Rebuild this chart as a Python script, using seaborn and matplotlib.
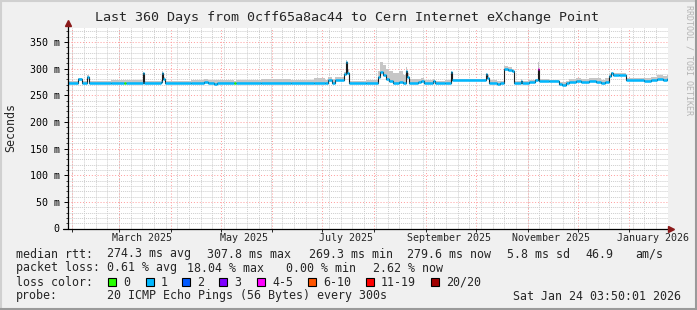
import numpy as np
import pandas as pd
import matplotlib
matplotlib.use("Agg")
import matplotlib.pyplot as plt
import matplotlib.dates as mdates
from matplotlib.ticker import MultipleLocator, FuncFormatter, NullFormatter
from matplotlib.patches import Rectangle
from matplotlib.lines import Line2D
import seaborn as sns

# ---------------- data ----------------
days = [0.0, 6.0, 8.4, 11.4, 12.6, 25.8, 33.6, 34.8, 45.0, 45.6,
        55.8, 56.4, 57.3, 58.2, 73.8, 81.6, 84.0, 87.6, 89.4, 99.6,
        100.8, 115.8, 133.8, 147.6, 154.2, 156.0, 158.4, 160.2, 165.6, 166.8,
        167.4, 168.6, 178.8, 186.0, 187.2, 189.0, 190.8, 192.6, 195.0, 198.6,
        201.0, 202.8, 203.4, 204.6, 210.0, 211.8, 213.6, 219.0, 220.2, 226.2,
        229.8, 230.4, 250.8, 251.4, 252.6, 257.4, 259.2, 261.6, 264.0, 266.4,
        267.6, 271.8, 272.4, 276.6, 280.2, 282.0, 282.6, 288.6, 294.6, 296.4,
        298.8, 300.6, 304.8, 307.8, 312.6, 316.8, 319.8, 322.2, 324.6, 325.8,
        327.0, 330.6, 334.8, 345.6, 349.8, 353.4, 357.0, 359.4, 360.0]
median_ms = [273, 280, 273, 285, 273, 273, 273, 273, 291, 273,
             274, 292, 280, 273, 273, 275, 273, 271, 273, 273,
             273, 273, 273, 273, 273, 278, 272, 278, 289, 312,
             292, 272, 273, 285, 294, 288, 281, 276, 273, 275,
             273, 296, 284, 273, 274, 277, 272, 276, 272, 273,
             294, 279, 289, 283, 273, 271, 273, 300, 298, 296,
             272, 277, 272, 275, 278, 300, 277, 276, 271, 270,
             272, 275, 277, 274, 276, 275, 272, 275, 286, 291,
             288, 287, 279, 277, 279, 281, 279, 281, 281]
smoke_hi_ms = [277, 283, 277, 288, 277, 279, 278, 278, 294, 277,
               279, 296, 284, 277, 279, 281, 279, 278, 278, 277,
               278, 280, 278, 282, 279, 284, 280, 284, 293, 316,
               300, 277, 278, 295, 313, 306, 300, 296, 292, 296,
               288, 303, 292, 281, 280, 282, 278, 281, 277, 278,
               295, 281, 291, 288, 278, 276, 277, 304, 302, 300,
               277, 280, 277, 279, 281, 313, 280, 279, 275, 274,
               276, 280, 282, 281, 283, 282, 278, 283, 290, 294,
               292, 291, 282, 283, 284, 287, 286, 287, 287]
loss = ["1", "1", "1", "1", "1", "1", "0", "1", "1", "1",
        "1", "1", "1", "1", "1", "1", "1", "1", "1", "0",
        "1", "1", "1", "1", "1", "1", "1", "1", "1", "1",
        "1", "1", "1", "1", "1", "1", "1", "1", "1", "1",
        "1", "1", "1", "1", "1", "1", "1", "1", "1", "1",
        "1", "1", "1", "1", "1", "1", "1", "1", "1", "1",
        "1", "1", "1", "1", "1", "4-5", "1", "1", "1", "1",
        "1", "1", "1", "1", "1", "1", "1", "1", "1", "1",
        "1", "1", "1", "1", "1", "1", "1", "1", "1"]

loss_labels = ["0", "1", "2", "3", "4-5", "6-10", "11-19", "20/20"]
loss_colors = ["#26ff00", "#00b8ff", "#0059ff", "#7e00ff", "#ff00ff",
               "#ff5500", "#ff0000", "#a10000"]

title = "Last 360 Days from 0cff65a8ac44 to Cern Internet eXchange Point"
row1 = ["median rtt:", "274.3 ms avg", "307.8 ms max", "269.3 ms min",
        "279.6 ms now", "5.8 ms sd", "46.9", "am/s"]
row2 = ["packet loss:", "0.61 % avg", "18.04 % max", "0.00 % min", "2.62 % now"]
row4 = ["probe:", "20 ICMP Echo Pings (56 Bytes) every 300s",
        "Sat Jan 24 03:50:01 2026"]

start = pd.Timestamp("2025-01-29 03:50:01")
end = start + pd.Timedelta(days=360)

# ---------------- style ----------------
sns.set_style("white")
plt.rcParams["font.family"] = ["DejaVu Sans Mono", "DejaVu Sans"]

W, H = 697, 310
BG = "#f0f0f0"
fig = plt.figure(figsize=(W / 100, H / 100), dpi=100, facecolor=BG)
ax = fig.add_axes([67.5 / W, (H - 228.5) / H, 600.5 / W, 200.5 / H])
ax.set_facecolor("white")

df = pd.DataFrame({
    "date": start + pd.to_timedelta(days, unit="D"),
    "median": median_ms,
    "hi": smoke_hi_ms,
    "loss": loss,
})
cmap = dict(zip(loss_labels, loss_colors))

# smoke
ax.fill_between(mdates.date2num(df["date"]), df["median"], df["hi"],
                step="post", color="#c6c6c6", lw=0, zorder=2)
# median (dark transitions)
sns.lineplot(data=df, x="date", y="median", drawstyle="steps-post",
             color="#1c1c1c", lw=0.8, ax=ax, zorder=3, legend=False)
# median coloured by loss
xn = mdates.date2num(df["date"])
for i in range(len(df) - 1):
    ax.hlines(df["median"].iloc[i], xn[i], xn[i + 1],
              color=cmap[df["loss"].iloc[i]], lw=1.8, zorder=4)

ax.set_xlim(start, end)
ax.set_ylim(0, 376)
ax.set_xlabel("")
ax.set_ylabel("")

# grid
ax.set_axisbelow(True)
ax.yaxis.set_major_locator(MultipleLocator(50))
ax.yaxis.set_minor_locator(MultipleLocator(10))
ax.yaxis.set_major_formatter(FuncFormatter(lambda v, p: "0" if v == 0 else f"{int(v)} m"))
ax.xaxis.set_major_locator(mdates.MonthLocator())
ax.xaxis.set_major_formatter(NullFormatter())
ax.xaxis.set_minor_locator(mdates.MonthLocator(bymonth=(1, 3, 5, 7, 9, 11), bymonthday=15))
ax.xaxis.set_minor_formatter(mdates.DateFormatter("%B %Y"))

for d in mdates.WeekdayLocator(byweekday=mdates.SA).tick_values(start, end):
    ax.axvline(d, color="#cdcdcd", lw=0.7, ls=(0, (1, 1)), zorder=0)
ax.grid(which="minor", axis="y", color="#cdcdcd", lw=0.7, ls=(0, (1, 1)), zorder=0)
ax.grid(which="major", axis="y", color="#ff9a9a", lw=0.7, ls=(0, (1, 2)), zorder=1)
ax.grid(which="major", axis="x", color="#ff9a9a", lw=0.7, ls=(0, (1, 2)), zorder=1)
ax.grid(which="minor", axis="x", visible=False)

ax.tick_params(axis="y", which="major", length=3, width=0.7, pad=2.5,
               labelsize=7.2, direction="out", left=True, colors="black")
ax.tick_params(axis="y", which="minor", length=1.5, width=0.6, left=True, direction="out")
ax.tick_params(axis="x", which="major", length=2.5, width=0.7, bottom=True, direction="out")
ax.tick_params(axis="x", which="minor", length=0, pad=3, labelsize=7.2)

for s in ax.spines.values():
    s.set_visible(False)

# axis lines with arrows
ax.plot([0, 0], [0, 1.01], color="black", lw=0.9, transform=ax.transAxes, clip_on=False, zorder=6)
ax.plot([-0.007, 1.0], [0, 0], color="black", lw=0.9, transform=ax.transAxes, clip_on=False, zorder=6)
ax.plot([0], [1.025], marker="^", ms=4.5, color="#8b1a1a", transform=ax.transAxes, clip_on=False, zorder=7)
ax.plot([1.005], [0], marker=">", ms=4.5, color="#8b1a1a", transform=ax.transAxes, clip_on=False, zorder=7)

# texts
def ft(x, y, s, **kw):
    kw.setdefault("fontsize", 8.35)
    kw.setdefault("va", "center")
    kw.setdefault("ha", "left")
    fig.text(x / W, 1 - y / H, s, **kw)

ft(347, 18, title, ha="center", fontsize=9.6)
ft(11, 127.5, "Seconds", rotation=90, ha="center")
ft(689, 5, "RRDTOOL / TOBI OETIKER", rotation=270, ha="center", va="top",
   fontsize=6, color="#b4b4b4")

for x, s in zip([16, 107, 207, 309, 407, 507, 585, 635], row1):
    ft(x, 254, s)
for x, s in zip([16, 107, 187, 286, 373], row2):
    ft(x, 268, s)
ft(16, 282, "loss color:")
sq_x = [108, 146, 182, 219, 257, 308, 366, 431]
for x, lab, col in zip(sq_x, loss_labels, loss_colors):
    fig.add_artist(Rectangle((x / W, 1 - 285.5 / H), 8 / W, 8 / H,
                             transform=fig.transFigure, facecolor=col,
                             edgecolor="black", lw=0.8))
    ft(x + 15, 282, lab)
for x, s in zip([16, 107, 513], row4):
    ft(x, 296, s)

# 3D-ish frame
fig.add_artist(Line2D([0, 1], [1 - 0.5 / H, 1 - 0.5 / H], transform=fig.transFigure, color="#d0d0d0", lw=1.5))
fig.add_artist(Line2D([0.5 / W, 0.5 / W], [0, 1], transform=fig.transFigure, color="#d0d0d0", lw=1.5))
fig.add_artist(Line2D([0, 1], [1 / H, 1 / H], transform=fig.transFigure, color="#9a9a9a", lw=1.5))
fig.add_artist(Line2D([1 - 1 / W, 1 - 1 / W], [0, 1], transform=fig.transFigure, color="#9a9a9a", lw=1.5))

fig.savefig("out.png", dpi=100, facecolor=BG)
